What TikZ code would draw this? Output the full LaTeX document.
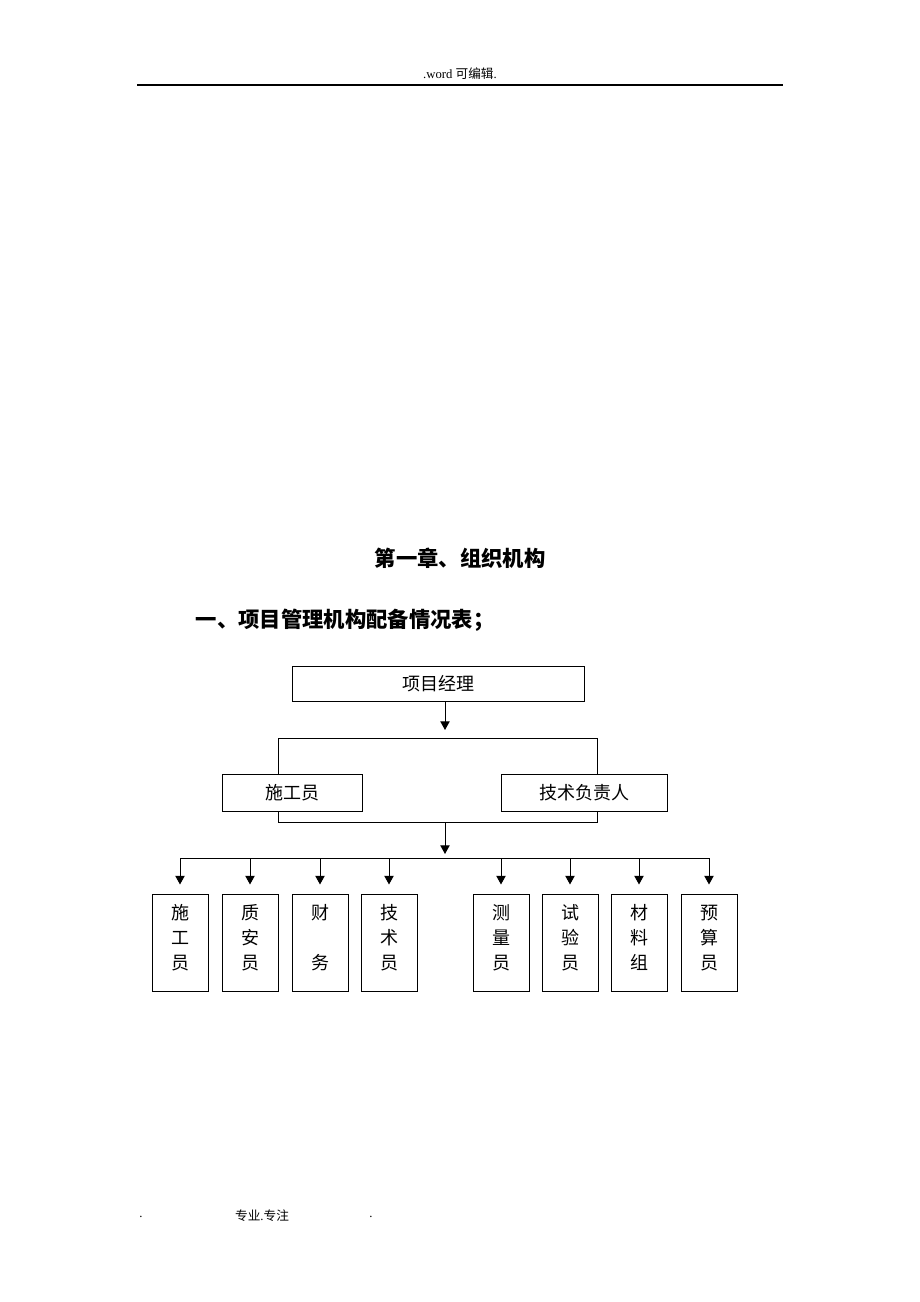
\documentclass[tikz,border=0pt]{standalone}
\usepackage{fontspec}
\setmainfont{Liberation Serif}
\newfontfamily\cjk{Noto Sans CJK SC}
\usetikzlibrary{arrows.meta}

\begin{document}
\begin{tikzpicture}
  [x=0.75pt,y=-0.75pt,
    box/.style={draw,line width=0.75pt,fill=white,inner sep=0pt,
      font=\cjk\fontsize{13.5}{18.75}\selectfont},
    wbox/.style={box,minimum height=26.25pt},
    cbox/.style={box,minimum width=42pt,minimum height=72.75pt,
      align=center,text depth=8.5pt},
    wire/.style={line width=0.75pt},
    arr/.style={wire,-{Triangle[length=6.5pt,width=7pt]}},
    head/.style={font=\cjk\bfseries\fontsize{16}{19}\selectfont},
    small/.style={font=\fontsize{9.5}{11}\selectfont},
]
  \useasboundingbox (0,0) rectangle (920,1302);

  % header and footer of the page
  \node[small](hdr) at (460,74) {.word {\cjk 可编辑}.};
  \draw[line width=1.1pt] (137,85)--(783,85);
  \node[small](fdl) at (141,1217) {.};
  \node[small](fdm) at (262,1216) {{\cjk 专业}.{\cjk 专注}};
  \node[small](fdr) at (371,1217) {.};

  % titles
  \node[head](chap) at (460,558) {第一章、组织机构};
  \node[head,anchor=west](sect) at (191,620) {一、项目管理机构配备情况表；};

  % top of the chart
  \coordinate(bnw) at (278,738);
  \coordinate(bse) at (597,822);
  \draw[wire] (bnw) rectangle (bse);

  \node[wbox,minimum width=219pt](pm) at (438,683.5) {项目经理};
  \node[wbox,minimum width=105pt,minimum height=27.75pt](sgy) at (292,792.5) {施工员};
  \node[wbox,minimum width=124.5pt,minimum height=27.75pt](jsfzr) at (584,792.5) {技术负责人};

  \coordinate(btop) at (445,738);
  \coordinate(bbot) at (445,822);
  \coordinate(bus) at (445,858);

  \draw[arr,shorten >=6pt] (pm.south -| btop)--(btop);
  \draw[arr,shorten >=3pt] (bbot)--(bus);

  % staff boxes
  \node[cbox](r1) at (180,942.5) {施\\工\\员};
  \node[cbox](r2) at (250,942.5) {质\\安\\员};
  \node[cbox](r3) at (320,942.5) {财\\\mbox{}\\务};
  \node[cbox](r4) at (389,942.5) {技\\术\\员};
  \node[cbox](r5) at (501,942.5) {测\\量\\员};
  \node[cbox](r6) at (570,942.5) {试\\验\\员};
  \node[cbox](r7) at (639,942.5) {材\\料\\组};
  \node[cbox](r8) at (709,942.5) {预\\算\\员};

  \draw[wire] (r1.north |- bus)--(r8.north |- bus);
  \draw[arr,shorten >=6.75pt] (r1.north |- bus)--(r1.north);
  \draw[arr,shorten >=6.75pt] (r2.north |- bus)--(r2.north);
  \draw[arr,shorten >=6.75pt] (r3.north |- bus)--(r3.north);
  \draw[arr,shorten >=6.75pt] (r4.north |- bus)--(r4.north);
  \draw[arr,shorten >=6.75pt] (r5.north |- bus)--(r5.north);
  \draw[arr,shorten >=6.75pt] (r6.north |- bus)--(r6.north);
  \draw[arr,shorten >=6.75pt] (r7.north |- bus)--(r7.north);
  \draw[arr,shorten >=6.75pt] (r8.north |- bus)--(r8.north);

\end{tikzpicture}
\end{document}
